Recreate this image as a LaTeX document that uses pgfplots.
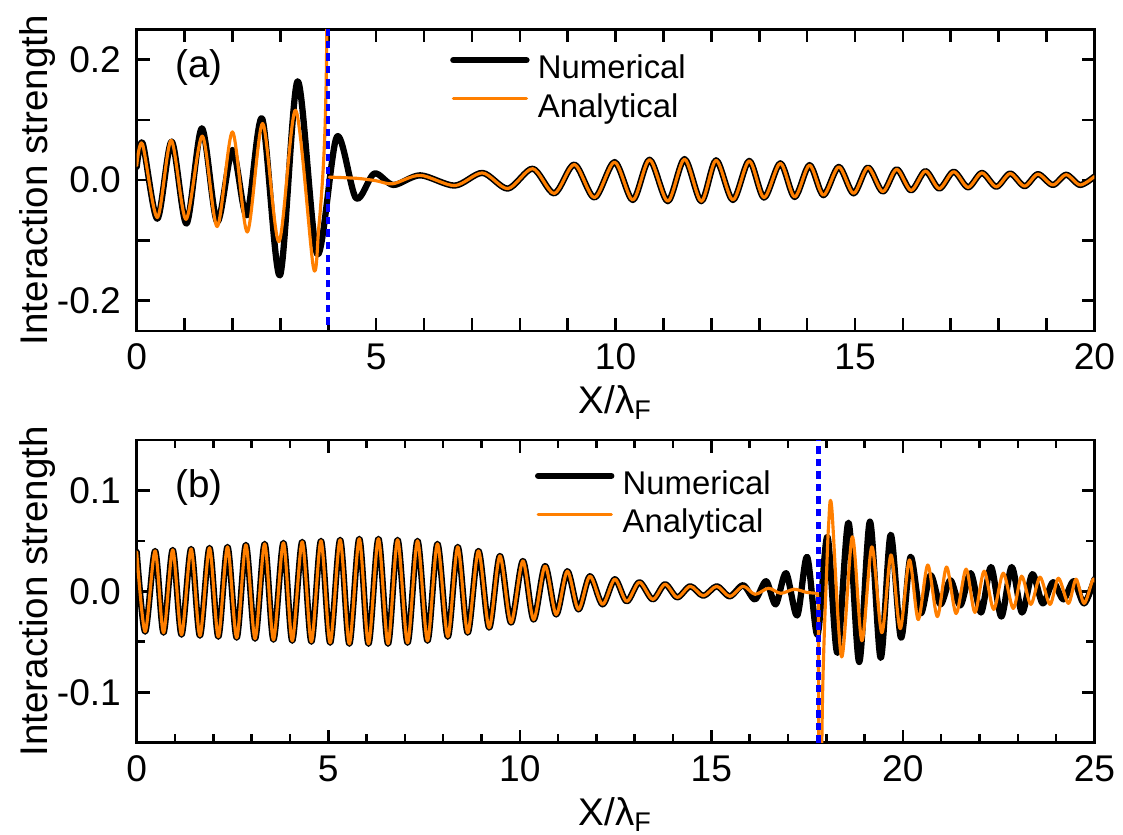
\documentclass[border=0pt]{standalone}
\usepackage{fontspec}
\setmainfont{Liberation Sans}
\usepackage{pgfplots}
\pgfplotsset{compat=1.18}
\definecolor{numblack}{RGB}{0,0,0}
\definecolor{anaorange}{RGB}{255,127,0}
\definecolor{markblue}{RGB}{0,0,255}

\pgfplotsset{
  panel/.style={
    scale only axis,
    width=335.2pt,
    xmin=0,
    axis line style={line width=0.9pt},
    every tick/.style={line width=0.9pt, black},
    tick align=inside,
    major tick length=4.5pt,
    /pgf/number format/assume math mode=true,
    tick label style={font=\fontsize{13}{15}\selectfont},
    xticklabel style={yshift=-1.0pt},
    yticklabel style={xshift=-2.0pt},
    label style={font=\fontsize{13.5}{16}\selectfont},
    xlabel={X/λ\textsubscript{F}},
    ylabel={Interaction strength},
    legend cell align=left,
    legend style={draw=none, fill=none, inner sep=0pt, outer sep=0pt,
      column sep=1.6pt, font=\fontsize{11.5}{13}\selectfont,
      nodes={inner sep=1.3pt, text height=8.4pt, text depth=2.4pt}},
    legend image code/.code={\path (0pt,0pt); \draw[#1] (0pt,3.5pt) -- (25.6pt,3.5pt);},
  },
  numerical/.style={numblack, line width=2.2pt, smooth, line join=round, line cap=round},
  analytical/.style={anaorange, line width=1.1pt, smooth, line join=round, line cap=round},
  boundary/.style={markblue, line width=1.5pt, dash pattern=on 2.6pt off 1.8pt},
}

\begin{document}
\begin{tikzpicture}
\path[use as bounding box] (-47.85pt,-176.35pt) rectangle (345.2pt,115.8pt);

% ---------------- panel (a) ----------------
\begin{axis}[panel,
  name=pa,
  height=105.5pt,
  xmax=20, ymin=-0.25, ymax=0.25,
  xtick={0,5,10,15,20},
  minor xtick={1,2,3,4,6,7,8,9,11,12,13,14,16,17,18,19},
  ytick={-0.2,0,0.2}, minor ytick={-0.1,0.1},
  minor tick length=4.5pt,
  yticklabel style={/pgf/number format/.cd, fixed, fixed zerofill, precision=1},
  xlabel style={at={(axis description cs:0.5,-0.237)}, anchor=center},
  ylabel style={at={(axis description cs:-0.1035,0.5)}, anchor=center},
  legend style={at={(axis description cs:0.3273,0.8014)}, anchor=west},
]
\addplot[numerical] coordinates {
 (0.00,0.022) (0.125,0.061) (0.43,-0.064) (0.73,0.064) (1.04,-0.072)
 (1.36,0.086) (1.68,-0.069) (2.00,0.050) (2.30,-0.058) (2.62,0.102)
 (2.99,-0.158) (3.36,0.164) (3.77,-0.123) (4.18,0.072) (4.58,-0.030)
 (4.96,0.011) (5.36,-0.008) (5.92,0.008) (6.64,-0.009) (7.22,0.012)
 (7.75,-0.014) (8.27,0.019) (8.72,-0.022) (9.14,0.026) (9.56,-0.029)
 (9.98,0.030) (10.36,-0.033) (10.71,0.034) (11.09,-0.035) (11.44,0.035)
 (11.79,-0.035) (12.10,0.033) (12.45,-0.033) (12.79,0.032) (13.10,-0.029)
 (13.44,0.028) (13.74,-0.028) (14.05,0.025) (14.34,-0.025) (14.66,0.022)
 (14.97,-0.022) (15.27,0.021) (15.58,-0.019) (15.87,0.018) (16.17,-0.017)
 (16.47,0.015) (16.76,-0.014) (17.06,0.014) (17.36,-0.012) (17.65,0.012)
 (17.95,-0.011) (18.24,0.011) (18.54,-0.010) (18.82,0.010) (19.13,-0.008)
 (19.41,0.009) (19.70,-0.008) (20.00,0.006)
};
\addlegendentry{Numerical}
\addplot[analytical] coordinates {
 (0.00,0.024) (0.12,0.060) (0.43,-0.062) (0.72,0.066) (1.03,-0.065)
 (1.37,0.073) (1.68,-0.077) (2.00,0.080) (2.31,-0.086) (2.63,0.094)
 (2.97,-0.102) (3.32,0.116) (3.69,-0.145) (3.80,-0.080) (3.88,0.000)
 (3.93,0.080) (3.96,0.180) (3.975,0.300)
};
\addlegendentry{Analytical}
\addplot[analytical, forget plot] coordinates {
 (4.02,0.005) (4.60,0.003) (5.00,-0.001) (5.35,-0.006) (5.92,0.008)
 (6.64,-0.009) (7.22,0.012) (7.75,-0.014) (8.27,0.019) (8.72,-0.022)
 (9.14,0.026) (9.56,-0.029) (9.98,0.030) (10.36,-0.033) (10.71,0.034)
 (11.09,-0.035) (11.44,0.035) (11.79,-0.035) (12.10,0.033) (12.45,-0.033)
 (12.79,0.032) (13.10,-0.029) (13.44,0.028) (13.74,-0.028) (14.05,0.025)
 (14.34,-0.025) (14.66,0.022) (14.97,-0.022) (15.27,0.021) (15.58,-0.019)
 (15.87,0.018) (16.17,-0.017) (16.47,0.015) (16.76,-0.014) (17.06,0.014)
 (17.36,-0.012) (17.65,0.012) (17.95,-0.011) (18.24,0.011) (18.54,-0.010)
 (18.82,0.010) (19.13,-0.008) (19.41,0.009) (19.70,-0.008) (20.00,0.006)
};
\addplot[boundary, forget plot] coordinates {(4,-0.24) (4,0.25)};
\node[font=\fontsize{13.5}{16}\selectfont, anchor=west] at (axis description cs:0.030,0.872) {(a)};
\end{axis}

% ---------------- panel (b) ----------------
\begin{axis}[panel,
  at={(0pt,-38.15pt)}, anchor=north west,
  height=106pt,
  xmax=25, ymin=-0.15, ymax=0.15,
  xtick={0,5,10,15,20,25},
  minor xtick={1,2,3,4,6,7,8,9,11,12,13,14,16,17,18,19,21,22,23,24},
  ytick={-0.1,0,0.1}, minor ytick={-0.05,0.05},
  minor tick length=2.9pt,
  yticklabel style={/pgf/number format/.cd, fixed, fixed zerofill, precision=1},
  xlabel style={at={(axis description cs:0.5,-0.236)}, anchor=center},
  ylabel style={at={(axis description cs:-0.1035,0.5)}, anchor=center},
  legend style={at={(axis description cs:0.4159,0.785)}, anchor=west},
]
\addplot[numerical] coordinates {
 (0.00,0.039) (0.22,-0.040) (0.48,0.040) (0.70,-0.041) (0.94,0.041)
 (1.17,-0.043) (1.42,0.042) (1.65,-0.044) (1.90,0.043) (2.13,-0.045)
 (2.37,0.044) (2.61,-0.046) (2.85,0.046) (3.09,-0.047) (3.34,0.047)
 (3.57,-0.048) (3.83,0.048) (4.06,-0.049) (4.32,0.049) (4.56,-0.050)
 (4.81,0.050) (5.05,-0.051) (5.31,0.051) (5.55,-0.052) (5.81,0.052)
 (6.05,-0.052) (6.31,0.052) (6.56,-0.052) (6.81,0.051) (7.07,-0.051)
 (7.33,0.050) (7.59,-0.049) (7.85,0.047) (8.12,-0.045) (8.38,0.044)
 (8.64,-0.041) (8.92,0.040) (9.20,-0.036) (9.48,0.035) (9.77,-0.031)
 (10.08,0.030) (10.36,-0.028) (10.66,0.025) (10.95,-0.023) (11.24,0.020)
 (11.53,-0.018) (11.83,0.015) (12.16,-0.013) (12.48,0.012) (12.79,-0.010)
 (13.12,0.009) (13.47,-0.008) (13.79,0.007) (14.11,-0.006) (14.45,0.005)
 (14.79,-0.0045) (15.14,0.005) (15.48,-0.005) (15.83,0.006) (16.14,-0.008)
 (16.43,0.010) (16.68,-0.013) (16.95,0.018) (17.24,-0.024) (17.50,0.034)
 (17.77,-0.043) (18.03,0.054) (18.29,-0.061) (18.58,0.068) (18.86,-0.070)
 (19.14,0.069) (19.42,-0.066) (19.68,0.056) (19.95,-0.046) (20.20,0.034)
 (20.46,-0.022) (20.72,0.016) (20.98,-0.013) (21.24,0.011) (21.50,-0.014)
 (21.77,0.018) (22.04,-0.021) (22.30,0.024) (22.57,-0.025) (22.84,0.024)
 (23.11,-0.021) (23.38,0.017) (23.65,-0.012) (23.92,0.009) (24.19,-0.008)
 (24.46,0.010) (24.73,-0.012) (25.00,0.012)
};
\addlegendentry{Numerical}
\addplot[analytical] coordinates {
 (0.00,0.039) (0.22,-0.040) (0.48,0.040) (0.70,-0.041) (0.94,0.041)
 (1.17,-0.043) (1.42,0.042) (1.65,-0.044) (1.90,0.043) (2.13,-0.045)
 (2.37,0.044) (2.61,-0.046) (2.85,0.046) (3.09,-0.047) (3.34,0.047)
 (3.57,-0.048) (3.83,0.048) (4.06,-0.049) (4.32,0.049) (4.56,-0.050)
 (4.81,0.050) (5.05,-0.051) (5.31,0.051) (5.55,-0.052) (5.81,0.052)
 (6.05,-0.052) (6.31,0.052) (6.56,-0.052) (6.81,0.051) (7.07,-0.051)
 (7.33,0.050) (7.59,-0.049) (7.85,0.047) (8.12,-0.045) (8.38,0.044)
 (8.64,-0.041) (8.92,0.040) (9.20,-0.036) (9.48,0.035) (9.77,-0.031)
 (10.08,0.030) (10.36,-0.028) (10.66,0.025) (10.95,-0.023) (11.24,0.020)
 (11.53,-0.018) (11.83,0.015) (12.16,-0.013) (12.48,0.012) (12.79,-0.010)
 (13.12,0.009) (13.47,-0.008) (13.79,0.007) (14.11,-0.006) (14.45,0.005)
 (14.79,-0.0045) (15.14,0.005) (15.48,-0.005) (15.83,0.005) (16.14,-0.003)
 (16.49,0.003) (16.81,-0.002) (17.16,0.002) (17.48,-0.001) (17.76,-0.002)
};
\addlegendentry{Analytical}
\addplot[anaorange, line width=1.1pt, forget plot] coordinates {
 (17.76,-0.002) (17.795,-0.010) (17.805,-0.200)
};
\addplot[analytical, forget plot] coordinates {
 (17.85,-0.250) (17.90,-0.110) (17.95,-0.040) (18.00,0.010) (18.06,0.065)
 (18.14,0.084) (18.40,-0.065) (18.68,0.054) (18.93,-0.049) (19.19,0.044)
 (19.45,-0.041) (19.69,0.036) (19.93,-0.037) (20.17,0.031) (20.40,-0.028)
 (20.65,0.026) (20.90,-0.025) (21.14,0.024) (21.39,-0.022) (21.65,0.022)
 (21.88,-0.021) (22.12,0.020) (22.37,-0.018) (22.62,0.018) (22.88,-0.017)
 (23.10,0.015) (23.34,-0.013) (23.58,0.014) (23.84,-0.013) (24.06,0.013)
 (24.32,-0.012) (24.52,0.012) (24.73,-0.012) (24.95,0.011) (25.00,0.010)
};
\addplot[boundary, forget plot] coordinates {(17.8,-0.15) (17.8,0.15)};
\node[font=\fontsize{13.5}{16}\selectfont, anchor=west] at (axis description cs:0.030,0.8415) {(b)};
\end{axis}
\end{tikzpicture}
\end{document}
